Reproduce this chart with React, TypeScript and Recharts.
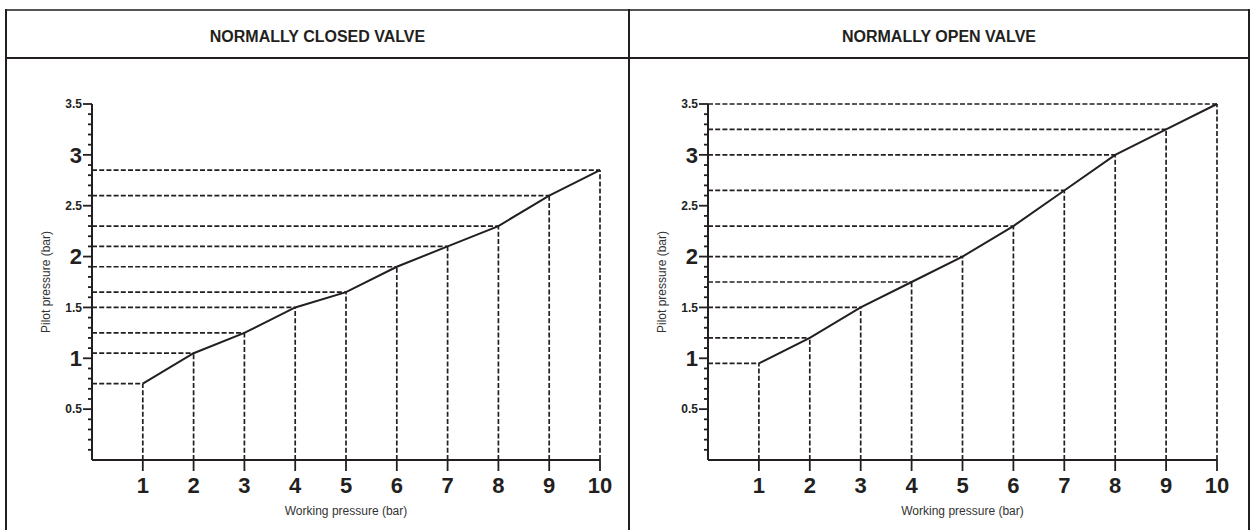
import React from 'react';
import { LineChart, Line, XAxis, YAxis, ReferenceLine, Label } from 'recharts';

const workingPressure = [1, 2, 3, 4, 5, 6, 7, 8, 9, 10];
const closedPilot = [0.75, 1.05, 1.25, 1.5, 1.65, 1.9, 2.1, 2.3, 2.6, 2.85];
const openPilot = [0.95, 1.2, 1.5, 1.75, 2.0, 2.3, 2.65, 3.0, 3.25, 3.5];
const yMajorTicks = [0.5, 1, 1.5, 2, 2.5, 3, 3.5];
const yTicks = [
  0.1, 0.2, 0.3, 0.4, 0.5, 0.6, 0.7, 0.8, 0.9, 1.0,
  1.1, 1.2, 1.3, 1.4, 1.5, 1.6, 1.7, 1.8, 1.9, 2.0,
  2.1, 2.2, 2.3, 2.4, 2.5, 2.6, 2.7, 2.8, 2.9, 3.0,
  3.1, 3.2, 3.3, 3.4, 3.5,
];
const xTicks = workingPressure;
const panelTitles = ['NORMALLY CLOSED VALVE', 'NORMALLY OPEN VALVE'];
const xTitle = 'Working pressure (bar)';
const yTitle = 'Pilot pressure (bar)';

const INK = '#231f20';
const FONT = '"Liberation Sans", Arial, Helvetica, sans-serif';

const isMajor = (v: number) => yMajorTicks.some((m) => Math.abs(m - v) < 1e-6);

const YTick = (props: any) => {
  const { x, y, payload } = props;
  const v = Number(payload.value);
  const major = isMajor(v);
  const big = major && Math.abs(v - Math.round(v)) < 1e-6;
  const fs = big ? 22 : 12;
  return (
    <g>
      <line x1={x - (major ? 9 : 4)} x2={x} y1={y} y2={y} stroke={INK} strokeWidth={1.8} />
      {major && (
        <text
          x={x - 10}
          y={y + fs * 0.36}
          textAnchor="end"
          fontFamily={FONT}
          fontWeight="bold"
          fontSize={fs}
          fill={INK}
        >
          {String(v)}
        </text>
      )}
    </g>
  );
};

const XTick = (props: any) => {
  const { x, y, payload } = props;
  return (
    <g>
      <line x1={x} x2={x} y1={y} y2={y + 11} stroke={INK} strokeWidth={1.8} />
      <text x={x} y={y + 33} textAnchor="middle" fontFamily={FONT} fontWeight="bold" fontSize={22} fill={INK}>
        {String(payload.value)}
      </text>
    </g>
  );
};

const XTitle = (props: any) => {
  const vb = props.viewBox || {};
  return (
    <text x={vb.x + vb.width / 2} y={vb.y + 55} textAnchor="middle" fontFamily={FONT} fontSize={12} fill="#333">
      {xTitle}
    </text>
  );
};

const YTitle = (props: any) => {
  const vb = props.viewBox || {};
  const cx = vb.x + 4;
  const cy = vb.y + vb.height / 2;
  return (
    <text
      x={cx}
      y={cy}
      transform={`rotate(-90, ${cx}, ${cy})`}
      textAnchor="middle"
      dy={4.3}
      fontFamily={FONT}
      fontSize={12}
      fill="#333"
    >
      {yTitle}
    </text>
  );
};

const DASH = { stroke: INK, strokeWidth: 1.7, strokeDasharray: '5 2.2' };

const Panel = ({ pilot, width, margin }: { pilot: number[]; width: number; margin: any }) => {
  const data = workingPressure.map((x, i) => ({ x, y: pilot[i] }));
  return (
    <LineChart width={width} height={530} data={data} margin={margin}>
      {workingPressure.map((x, i) => (
        <ReferenceLine key={`h${i}`} segment={[{ x: 0, y: pilot[i] }, { x, y: pilot[i] }]} {...DASH} />
      ))}
      {workingPressure.map((x, i) => (
        <ReferenceLine key={`v${i}`} segment={[{ x, y: 0 }, { x, y: pilot[i] }]} {...DASH} />
      ))}
      <XAxis
        type="number"
        dataKey="x"
        domain={[0, 10]}
        ticks={xTicks}
        interval={0}
        height={50}
        tickSize={0}
        tickMargin={0}
        tickLine={false}
        axisLine={{ stroke: INK, strokeWidth: 2 }}
        tick={<XTick />}
      >
        <Label content={<XTitle />} />
      </XAxis>
      <YAxis
        type="number"
        dataKey="y"
        domain={[0, 3.5]}
        ticks={yTicks}
        interval={0}
        width={50}
        tickSize={0}
        tickMargin={0}
        tickLine={false}
        axisLine={{ stroke: INK, strokeWidth: 2 }}
        tick={<YTick />}
      >
        <Label content={<YTitle />} />
      </YAxis>
      <Line
        type="linear"
        dataKey="y"
        stroke={INK}
        strokeWidth={2}
        dot={false}
        activeDot={false}
        isAnimationActive={false}
      />
    </LineChart>
  );
};

export default function App() {
  const line = (style: React.CSSProperties) => <div style={{ position: 'absolute', background: INK, ...style }} />;
  return (
    <div style={{ position: 'absolute', left: 0, top: 0, width: 1251, height: 530, background: '#fff', overflow: 'hidden', fontFamily: FONT }}>
      <div style={{ position: 'absolute', left: 0, top: 0 }}>
        <Panel pilot={closedPilot} width={628} margin={{ top: 104, right: 28, bottom: 20, left: 42 }} />
      </div>
      <div style={{ position: 'absolute', left: 628, top: 0 }}>
        <Panel pilot={openPilot} width={623} margin={{ top: 104, right: 34, bottom: 20, left: 30 }} />
      </div>
      {line({ left: 5, top: 9, width: 1245, height: 2, background: '#555' })}
      {line({ left: 5, top: 57, width: 1245, height: 2 })}
      {line({ left: 5, top: 9, width: 2, height: 530 })}
      {line({ left: 628, top: 9, width: 2, height: 530 })}
      {line({ left: 1248, top: 9, width: 2, height: 530 })}
      <div style={{ position: 'absolute', left: 7, top: 11, width: 621, height: 46, display: 'flex', alignItems: 'center', justifyContent: 'center', fontWeight: 'bold', fontSize: 16, color: INK, paddingTop: 6, boxSizing: 'border-box' }}>
        {panelTitles[0]}
      </div>
      <div style={{ position: 'absolute', left: 630, top: 11, width: 618, height: 46, display: 'flex', alignItems: 'center', justifyContent: 'center', fontWeight: 'bold', fontSize: 16, color: INK, paddingTop: 6, boxSizing: 'border-box' }}>
        {panelTitles[1]}
      </div>
    </div>
  );
}
